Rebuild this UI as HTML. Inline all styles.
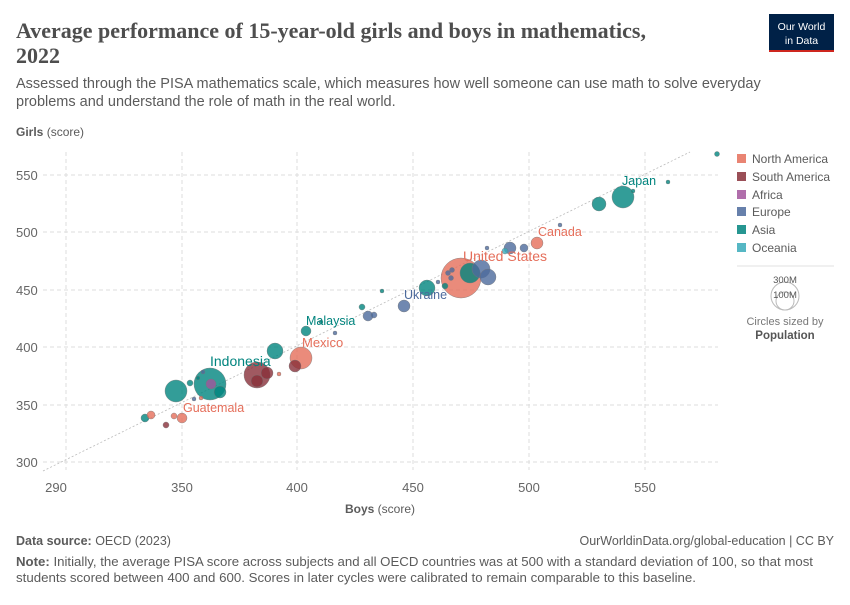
<!DOCTYPE html>
<html><head><meta charset="utf-8"><style>
body{margin:0;background:#fff;font-family:"Liberation Sans",sans-serif;}
svg text{font-family:"Liberation Sans",sans-serif;}
</style></head><body>
<svg width="850" height="600" xmlns="http://www.w3.org/2000/svg">
<text x="16" y="38" font-size="22" font-weight="bold" fill="#4e4e4e" style="font-family:'Liberation Serif',serif">Average performance of 15-year-old girls and boys in mathematics,</text>
<text x="16" y="63" font-size="22" font-weight="bold" fill="#4e4e4e" style="font-family:'Liberation Serif',serif">2022</text>
<text x="16" y="88" font-size="14.5" fill="#5b5b5b">Assessed through the PISA mathematics scale, which measures how well someone can use math to solve everyday</text>
<text x="16" y="106" font-size="14.5" fill="#5b5b5b">problems and understand the role of math in the real world.</text>
<rect x="769" y="14" width="65" height="36" fill="#002147"/>
<rect x="769" y="50" width="65" height="2" fill="#ce261e"/>
<text x="801.5" y="30" font-size="10.5" fill="#fff" text-anchor="middle">Our World</text>
<text x="801.5" y="44" font-size="10.5" fill="#fff" text-anchor="middle">in Data</text>
<text x="16" y="136" font-size="12" fill="#5b5b5b"><tspan font-weight="bold">Girls</tspan> (score)</text>
<g stroke="#ddd" stroke-dasharray="4,3" stroke-width="1">
<line x1="43" x2="718" y1="175" y2="175"/><line x1="43" x2="718" y1="232" y2="232"/>
<line x1="43" x2="718" y1="290" y2="290"/><line x1="43" x2="718" y1="347" y2="347"/>
<line x1="43" x2="718" y1="405" y2="405"/><line x1="43" x2="718" y1="462" y2="462"/>
<line x1="66" x2="66" y1="152" y2="470"/><line x1="182" x2="182" y1="152" y2="470"/>
<line x1="297" x2="297" y1="152" y2="470"/><line x1="413" x2="413" y1="152" y2="470"/>
<line x1="529" x2="529" y1="152" y2="470"/><line x1="645" x2="645" y1="152" y2="470"/>
</g>
<g font-size="13" fill="#666">
<text x="16" y="180">550</text><text x="16" y="237">500</text><text x="16" y="295">450</text>
<text x="16" y="352">400</text><text x="16" y="410">350</text><text x="16" y="467">300</text>
<text x="56" y="492" text-anchor="middle">290</text><text x="182" y="492" text-anchor="middle">350</text>
<text x="297" y="492" text-anchor="middle">400</text><text x="413" y="492" text-anchor="middle">450</text>
<text x="529" y="492" text-anchor="middle">500</text><text x="645" y="492" text-anchor="middle">550</text>
</g>
<text x="380" y="513" font-size="12" fill="#5b5b5b" text-anchor="middle"><tspan font-weight="bold">Boys</tspan> (score)</text>
<line x1="43" y1="471" x2="690" y2="152" stroke="#bbb" stroke-dasharray="2,2" stroke-width="0.8"/>
<g stroke="#777" stroke-width="0.4" fill-opacity="0.8">
<circle cx="461" cy="278" r="20" fill="#e56e5a"/>
<circle cx="210" cy="384" r="16" fill="#00847e"/>
<circle cx="257" cy="375" r="13" fill="#883039"/>
<circle cx="176" cy="391" r="11" fill="#00847e"/>
<circle cx="301" cy="358" r="11" fill="#e56e5a"/>
<circle cx="623" cy="197" r="11" fill="#00847e"/>
<circle cx="470" cy="273" r="10" fill="#00847e"/>
<circle cx="481" cy="269" r="9" fill="#4c6a9c"/>
<circle cx="488" cy="277" r="8" fill="#4c6a9c"/>
<circle cx="275" cy="351" r="8" fill="#00847e"/>
<circle cx="427" cy="288" r="8" fill="#00847e"/>
<circle cx="599" cy="204" r="7" fill="#00847e"/>
<circle cx="220" cy="392" r="6" fill="#00847e"/>
<circle cx="257" cy="381" r="6" fill="#883039"/>
<circle cx="267" cy="373" r="6" fill="#883039"/>
<circle cx="295" cy="366" r="6" fill="#883039"/>
<circle cx="404" cy="306" r="6" fill="#4c6a9c"/>
<circle cx="510" cy="248" r="6" fill="#4c6a9c"/>
<circle cx="537" cy="243" r="6" fill="#e56e5a"/>
<circle cx="211" cy="384" r="5" fill="#a2559c"/>
<circle cx="306" cy="331" r="5" fill="#00847e"/>
<circle cx="368" cy="316" r="5" fill="#4c6a9c"/>
<circle cx="182" cy="418" r="5" fill="#e56e5a"/>
<circle cx="145" cy="418" r="4" fill="#00847e"/>
<circle cx="151" cy="415" r="4" fill="#e56e5a"/>
<circle cx="524" cy="248" r="4" fill="#4c6a9c"/>
<circle cx="505" cy="251" r="3" fill="#38aaba"/>
<circle cx="190" cy="383" r="3" fill="#00847e"/>
<circle cx="166" cy="425" r="3" fill="#883039"/>
<circle cx="174" cy="416" r="3" fill="#e56e5a"/>
<circle cx="374" cy="315" r="3" fill="#4c6a9c"/>
<circle cx="362" cy="307" r="3" fill="#00847e"/>
<circle cx="445" cy="286" r="3" fill="#00847e"/>
<circle cx="451" cy="278" r="2.5" fill="#4c6a9c"/>
<circle cx="448" cy="273" r="2.5" fill="#4c6a9c"/>
<circle cx="452" cy="270" r="2.5" fill="#4c6a9c"/>
<circle cx="198" cy="378" r="2" fill="#00847e"/>
<circle cx="203" cy="372" r="2" fill="#4c6a9c"/>
<circle cx="194" cy="399" r="2" fill="#4c6a9c"/>
<circle cx="201" cy="398" r="2" fill="#e56e5a"/>
<circle cx="279" cy="374" r="2" fill="#e56e5a"/>
<circle cx="321" cy="322" r="2" fill="#00847e"/>
<circle cx="335" cy="333" r="2" fill="#4c6a9c"/>
<circle cx="382" cy="291" r="2" fill="#00847e"/>
<circle cx="438" cy="282" r="2" fill="#4c6a9c"/>
<circle cx="487" cy="248" r="2" fill="#4c6a9c"/>
<circle cx="560" cy="225" r="2" fill="#4c6a9c"/>
<circle cx="633" cy="191" r="2" fill="#00847e"/>
<circle cx="668" cy="182" r="2" fill="#00847e"/>
<circle cx="717" cy="154" r="2.5" fill="#00847e"/>
</g>
<g font-size="12.5">
<text x="183" y="412" fill="#e56e5a">Guatemala</text>
<text x="210" y="366" fill="#00847e" font-size="14">Indonesia</text>
<text x="302" y="347" fill="#e56e5a" font-size="13">Mexico</text>
<text x="306" y="325" fill="#00847e">Malaysia</text>
<text x="404" y="299" fill="#4c6a9c">Ukraine</text>
<text x="463" y="261" fill="#e56e5a" font-size="14">United States</text>
<text x="538" y="236" fill="#e56e5a">Canada</text>
<text x="622" y="185" fill="#00847e">Japan</text>
</g>
<g font-size="12" fill="#5b5b5b">
<rect x="737" y="154" width="9" height="9" fill="#e56e5a" fill-opacity="0.85"/><text x="752" y="163">North America</text>
<rect x="737" y="172" width="9" height="9" fill="#883039" fill-opacity="0.85"/><text x="752" y="181">South America</text>
<rect x="737" y="190" width="9" height="9" fill="#a2559c" fill-opacity="0.85"/><text x="752" y="199">Africa</text>
<rect x="737" y="207" width="9" height="9" fill="#4c6a9c" fill-opacity="0.85"/><text x="752" y="216">Europe</text>
<rect x="737" y="225" width="9" height="9" fill="#00847e" fill-opacity="0.85"/><text x="752" y="234">Asia</text>
<rect x="737" y="243" width="9" height="9" fill="#38aaba" fill-opacity="0.85"/><text x="752" y="252">Oceania</text>
</g>
<line x1="737" y1="266" x2="834" y2="266" stroke="#e0e0e0"/>
<circle cx="785" cy="296" r="14" fill="none" stroke="#bbb"/>
<circle cx="785" cy="301" r="9" fill="none" stroke="#bbb"/>
<text x="785" y="283" font-size="9.5" fill="#555" text-anchor="middle">300M</text>
<text x="785" y="298" font-size="9.5" fill="#555" text-anchor="middle">100M</text>
<text x="785" y="325" font-size="11" fill="#777" text-anchor="middle">Circles sized by</text>
<text x="785" y="339" font-size="11.5" fill="#555" font-weight="bold" text-anchor="middle">Population</text>
<text x="16" y="545" font-size="12.5" fill="#5b5b5b"><tspan font-weight="bold">Data source:</tspan> OECD (2023)</text>
<text x="834" y="545" font-size="12.5" fill="#5b5b5b" text-anchor="end">OurWorldinData.org/global-education | CC BY</text>
<text x="16" y="566" font-size="12.5" fill="#5b5b5b" textLength="797" lengthAdjust="spacingAndGlyphs"><tspan font-weight="bold">Note:</tspan> Initially, the average PISA score across subjects and all OECD countries was at 500 with a standard deviation of 100, so that most</text>
<text x="16" y="582" font-size="12.5" fill="#5b5b5b" textLength="680" lengthAdjust="spacingAndGlyphs">students scored between 400 and 600. Scores in later cycles were calibrated to remain comparable to this baseline.</text>
</svg>
</body></html>
